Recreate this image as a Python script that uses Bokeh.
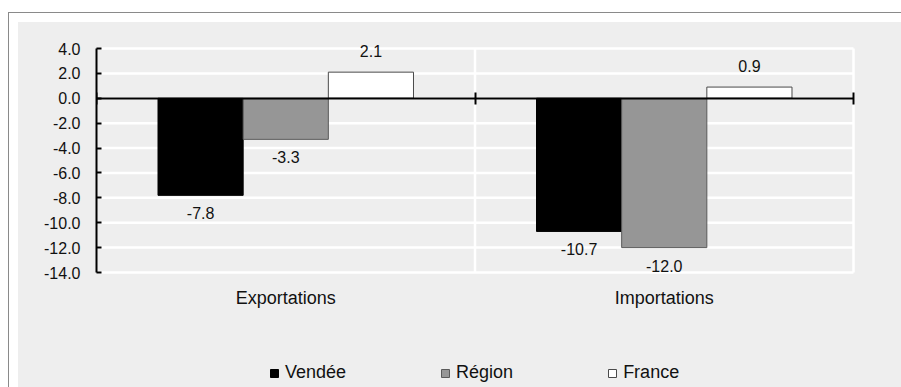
from bokeh.plotting import figure
from bokeh.models import (Range1d, FixedTicker, LinearAxis, Legend, LegendItem,
                          ColumnDataSource, PrintfTickFormatter)
from bokeh.embed import file_html
from bokeh.resources import INLINE
from bokeh.core.properties import value

# ---- data ----
categories = ["Exportations", "Importations"]
series = ["Vendée", "Région", "France"]
vendee = [-7.8, -10.7]
region = [-3.3, -12.0]
france = [2.1, 0.9]
y_ticks = [-14, -12, -10, -8, -6, -4, -2, 0, 2, 4]

values = [vendee, region, france]
fills = ["#000000", "#969696", "#ffffff"]
lines = ["#000000", "#5a5a5a", "#4a4a4a"]

FONT = "Liberation Sans"
BG = "#EEEEEE"
TXT = "#111111"
BAR_W = 0.225

# layout (pixels)
W, H = 901, 387
B_LEFT, B_RIGHT, B_TOP, B_BOTTOM = 96, 45, 38, 0
PX_PER_CAT = 378.5
PX_PER_UNIT = 224 / 18.0
PAD_TOP = 10
frame_w = W - B_LEFT - B_RIGHT
frame_h = H - B_TOP - B_BOTTOM
x_end = frame_w / PX_PER_CAT
y_end = y_ticks[-1] + PAD_TOP / PX_PER_UNIT
y_start = y_end - frame_h / PX_PER_UNIT

p = figure(width=W, height=H, output_backend="svg", toolbar_location=None,
           x_range=Range1d(0, x_end), y_range=Range1d(y_start, y_end),
           min_border_left=B_LEFT, min_border_right=B_RIGHT,
           min_border_top=B_TOP, min_border_bottom=B_BOTTOM)
p.background_fill_color = BG
p.border_fill_alpha = 0
p.outline_line_color = None
# outer frame: grey panel, white strip and thin grey border line (CSS background layers)
p.styles = {"background":
            "linear-gradient(#eeeeee, #eeeeee) 18px 22px / 100% 100% no-repeat, "
            "linear-gradient(#ffffff, #ffffff) 9px 13px / 100% 100% no-repeat, "
            "linear-gradient(#8a8a8a, #8a8a8a) 8px 12px / 100% 100% no-repeat, "
            "#ffffff"}
p.xgrid.visible = False
p.ygrid.visible = False

n_cat = len(categories)
bounds = list(range(n_cat + 1))

# white grid lines (drawn from the tick values)
p.segment(x0=[0] * len(y_ticks), x1=[n_cat] * len(y_ticks), y0=y_ticks, y1=y_ticks,
          line_color="white", line_width=2.5, level="underlay")
p.segment(x0=bounds[1:], x1=bounds[1:], y0=[y_ticks[0]] * n_cat, y1=[y_ticks[-1]] * n_cat,
          line_color="white", line_width=2.5, level="underlay")

# y axis
yax = p.yaxis[0]
yax.ticker = FixedTicker(ticks=y_ticks)
yax.bounds = (y_ticks[0], y_ticks[-1])
yax.formatter = PrintfTickFormatter(format="%.1f")
yax.axis_line_color = "black"
yax.axis_line_width = 2
yax.major_tick_in = 5
yax.major_tick_out = 0
yax.major_tick_line_width = 2
yax.minor_tick_line_color = None
yax.major_label_standoff = 16
yax.major_label_text_font = FONT
yax.major_label_text_font_size = "16px"
yax.major_label_text_color = TXT

# x axis: category labels, placed under the lowest y tick
xax = p.xaxis[0]
centers = [i + 0.5 for i in range(n_cat)]
xax.fixed_location = y_ticks[0]
xax.ticker = FixedTicker(ticks=centers)
xax.major_label_overrides = {c: lab for c, lab in zip(centers, categories)}
xax.axis_line_color = None
xax.major_tick_line_color = None
xax.major_tick_in = 0
xax.major_tick_out = 0
xax.minor_tick_line_color = None
xax.major_label_standoff = 15
xax.major_label_text_font = FONT
xax.major_label_text_font_size = "18px"
xax.major_label_text_color = TXT

# zero line axis with category-boundary ticks
zax = LinearAxis(fixed_location=0, ticker=FixedTicker(ticks=bounds), bounds=(0, n_cat))
zax.major_label_overrides = {b: "" for b in bounds}
zax.axis_line_color = "black"
zax.axis_line_width = 2
zax.major_tick_in = 6
zax.major_tick_out = 6
zax.major_tick_line_width = 2
zax.minor_tick_line_color = None
zax.major_label_standoff = 0
p.add_layout(zax, "above")

# bars
items = []
lx, ly, lt, lo = [], [], [], []
for k, (name, vals) in enumerate(zip(series, values)):
    xs = [c + (k - 1) * BAR_W for c in centers]
    src = ColumnDataSource(dict(x=xs, top=vals))
    r = p.vbar(x="x", top="top", bottom=0, width=BAR_W, source=src,
               fill_color=fills[k], line_color=lines[k], line_width=1)
    items.append(LegendItem(label=name, renderers=[r]))
    for x, v in zip(xs, vals):
        lx.append(x); ly.append(v); lt.append("%.1f" % v); lo.append(-21 if v >= 0 else 18)

lab_src = ColumnDataSource(dict(x=lx, y=ly, t=lt, o=lo))
p.text(x="x", y="y", text="t", y_offset="o", source=lab_src, text_align="center",
       text_baseline="middle", text_font=value(FONT), text_font_size="16px", text_color=TXT)

legend = Legend(items=items, orientation="horizontal", location=(173, 4),
                glyph_width=10, glyph_height=10, label_standoff=6, label_width=0, spacing=94,
                padding=0, margin=0, border_line_color=None, background_fill_alpha=0,
                label_text_font=FONT, label_text_font_size="18px", label_text_color=TXT)
p.add_layout(legend, "center")

open("out.html", "w").write(file_html(p, INLINE))
